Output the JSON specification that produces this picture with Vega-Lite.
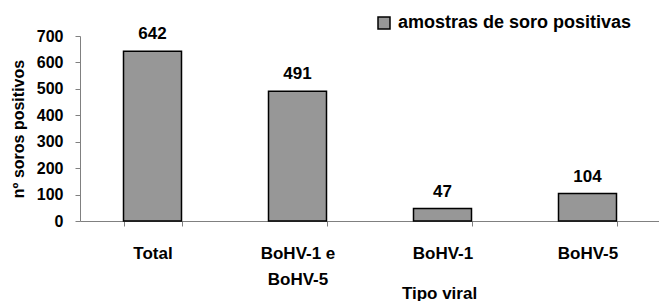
{
  "$schema": "https://vega.github.io/schema/vega-lite/v6.json",
  "width": 580,
  "height": 185,
  "autosize": {"type": "none"},
  "padding": {"left": 80, "top": 36, "right": 0, "bottom": 80},
  "background": "white",
  "config": {
    "font": "Liberation Sans",
    "view": {"stroke": null},
    "axis": {"domainColor": "#808080", "tickColor": "#808080", "labelFont": "Liberation Sans", "titleFont": "Liberation Sans", "labelFontWeight": "bold", "titleFontWeight": "bold", "labelFontSize": 17, "titleFontSize": 17, "labelColor": "black", "titleColor": "black", "grid": false}
  },
  "data": {
    "values": [
      {"tipo": "Total", "n": 642},
      {"tipo": "BoHV-1 e BoHV-5", "n": 491},
      {"tipo": "BoHV-1", "n": 47},
      {"tipo": "BoHV-5", "n": 104}
    ]
  },
  "encoding": {
    "x": {
      "field": "tipo", "type": "nominal", "sort": null,
      "scale": {"paddingInner": 0.6, "paddingOuter": 0.3},
      "axis": {
        "title": "Tipo viral", "labelAngle": 0, "tickBand": "extent", "tickSize": 5,
        "labelPadding": 27, "labelLineHeight": 26, "labelBaseline": "middle",
        "labelExpr": "datum.label == 'BoHV-1 e BoHV-5' ? ['BoHV-1 e', 'BoHV-5'] : datum.label",
        "titleX": 359, "titleY": 77, "titleBaseline": "alphabetic", "titleAnchor": "middle"
      }
    },
    "y": {
      "field": "n", "type": "quantitative",
      "scale": {"domain": [0, 700]},
      "axis": {"title": "nº soros positivos", "values": [0, 100, 200, 300, 400, 500, 600, 700], "tickSize": 5, "labelFontSize": 16, "titleFontSize": 16, "labelPadding": 12, "titlePadding": 10}
    }
  },
  "layer": [
    {
      "mark": {"type": "bar", "stroke": "black", "strokeWidth": 1.5},
      "encoding": {
        "color": {"datum": "amostras de soro positivas", "type": "nominal", "scale": {"range": ["#979797"]},
          "legend": {"title": null, "orient": "none", "legendX": 295, "legendY": -22, "labelFontSize": 18, "labelFontWeight": "bold", "labelColor": "black", "labelFont": "Liberation Sans", "labelLimit": 0, "symbolType": "square", "symbolSize": 144, "symbolStrokeColor": "black", "symbolStrokeWidth": 1.5, "labelOffset": 5}}
      }
    },
    {
      "mark": {"type": "text", "font": "Liberation Sans", "fontWeight": "bold", "fontSize": 17, "baseline": "alphabetic", "dy": -12, "color": "black"},
      "encoding": {"text": {"field": "n", "type": "quantitative"}}
    }
  ]
}
